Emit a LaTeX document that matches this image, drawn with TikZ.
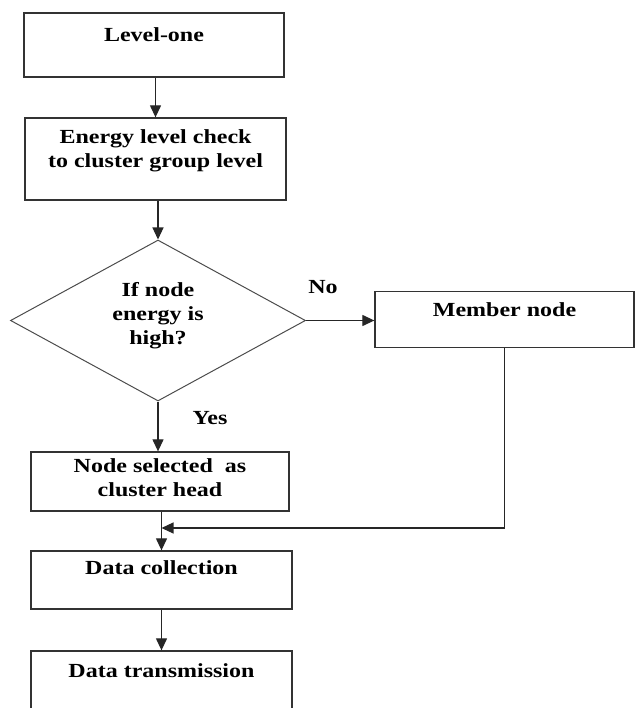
\documentclass[tikz,border=0pt]{standalone}
\usepackage{fontspec}
\setmainfont{Liberation Serif}[FakeStretch=1.2]
\usetikzlibrary{shapes.geometric,arrows.meta}

\tikzset{
	box/.style={draw=black!80, line width=1.3pt, inner sep=0pt},
	lbl/.style={font=\fontsize{20}{24}\selectfont\bfseries, align=center, inner sep=0pt},
	line/.style={draw=black!85, line width=1.2pt},
	>={Triangle[length=12pt,width=11pt]}
}

\begin{document}
\begin{tikzpicture}[x=1pt,y=-1pt]
			\clip (0,0) rectangle (635,708);
			%boxes
			\node (lvl) [box, minimum width=260pt, minimum height=64pt] at (154,45){};
			\node (chk) [box, minimum width=261pt, minimum height=82pt] at (155.5,159){};
			\node (dec) [box, diamond, draw=black!70, line width=1pt, minimum width=295pt, minimum height=161pt] at (158,320.5){};
			\node (mem) [box, minimum width=259pt, minimum height=56pt] at (504.5,319.5){};
			\node (sel) [box, minimum width=258pt, minimum height=59pt] at (160,481.5){};
			\node (col) [box, minimum width=261pt, minimum height=58pt] at (161.5,580){};
			\node (trn) [box, minimum width=261pt, minimum height=70pt] at (161.5,686){};
			
			%texts
			\node (lvl-t) [lbl] at (154,35){Level-one};
			\node (chk-t) [lbl] at (155.5,151){Energy level check\\to cluster group level};
			\node (dec-t) [lbl] at (158,316){If node\\energy is\\high?};
			\node (mem-t) [lbl] at (504.5,310){Member node};
			\node (sel-t) [lbl] at (160,478){Node selected\ \ as\\cluster head};
			\node (col-t) [lbl] at (161.5,568){Data collection};
			\node (trn-t) [lbl] at (161.5,671){Data transmission};
			\node (no) [lbl] at (323,287){No};
			\node (yes) [lbl] at (210,418){Yes};
			
			%arrows
			\draw[line,->] (chk |- lvl.south) -- (chk);
			\draw[line,->] (dec.north |- chk.south) -- (dec.north);
			\draw[line,->] (dec.east) -- (dec.east -| mem.west);
			\draw[line,->] (dec.south) -- (dec.south |- sel.north);
			\draw[line,->] (sel.south -| col) -- (col);
			\draw[line,->] (col) -- (col |- trn.north);
			\coordinate (mrg) at (161.5,528);
			\draw[line,->] (mem.south) |- (mrg);
		\end{tikzpicture}
\end{document}
